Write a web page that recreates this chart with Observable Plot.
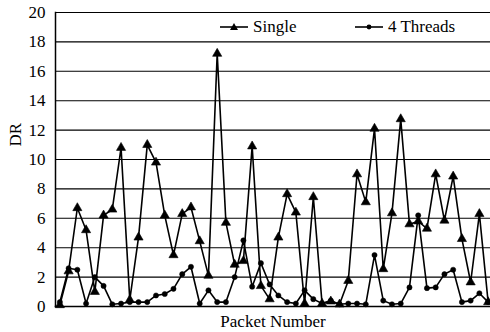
<!DOCTYPE html>
<html><head><meta charset="utf-8">
<script src="https://cdn.jsdelivr.net/npm/d3@7"></script>
<script src="https://cdn.jsdelivr.net/npm/@observablehq/plot@0.6"></script>
<style>
body{margin:0;background:#fff;}
#wrap{position:relative;width:490px;height:332px;font-family:"Liberation Serif","Times New Roman",Times,"Nimbus Roman","Nimbus Roman No9 L",FreeSerif,"Noto Serif","DejaVu Serif",serif;color:#000;}
#wrap svg text{font-family:inherit;}
.leg{position:absolute;top:17px;height:20px;font-size:17px;display:flex;align-items:center;white-space:nowrap;}
.leg svg{margin-right:4px;}
</style></head><body><div id="wrap"></div>
<script>
const packets = d3.range(1, 51);
const single = [0.1, 2.4, 6.7, 5.2, 1.0, 6.2, 6.6, 10.8, 0.45, 4.7,
  11.0, 9.8, 6.2, 3.5, 6.3, 6.75, 4.45, 2.1, 17.2, 5.7,
  2.85, 3.1, 10.9, 1.4, 0.5, 4.7, 7.65, 6.4, 0.2, 7.45,
  0.2, 0.35, 0.15, 1.75, 9.0, 7.1, 12.1, 2.55, 6.35, 12.75,
  5.6, 5.8, 5.3, 9.0, 5.85, 8.85, 4.6, 1.65, 6.3, 0.3];
const threads4 = [0.3, 2.6, 2.5, 0.2, 2.0, 1.4, 0.15, 0.2, 0.3, 0.3,
  0.3, 0.75, 0.85, 1.2, 2.2, 2.7, 0.2, 1.1, 0.3, 0.3,
  2.0, 4.5, 1.35, 2.95, 1.5, 0.75, 0.3, 0.2, 1.1, 0.5,
  0.2, 0.4, 0.15, 0.2, 0.2, 0.15, 3.5, 0.4, 0.15, 0.2,
  1.3, 6.2, 1.25, 1.3, 2.2, 2.5, 0.3, 0.4, 0.9, 0.3];
const seriesNames = ["Single", "4 Threads"];
const yTicks = [0, 2, 4, 6, 8, 10, 12, 14, 16, 18, 20];
const xLabel = "Packet Number";
const yLabel = "DR";

const rows = packets.flatMap((p, i) => [
  {packet: p, dr: single[i], series: seriesNames[0]},
  {packet: p, dr: threads4[i], series: seriesNames[1]}
]);

const serif = "'Liberation Serif', 'Times New Roman', Times, 'Nimbus Roman', FreeSerif, 'Noto Serif', 'DejaVu Serif', serif";
const chart = Plot.plot({
  width: 490, height: 332,
  marginLeft: 55, marginRight: 0, marginTop: 12, marginBottom: 26,
  style: {fontFamily: serif, fontSize: "17px", color: "#000", background: "#fff", overflow: "visible"},
  x: {type: "linear", domain: [0.5, 50.5], range: [55, 492], axis: null},
  y: {domain: [0, 20], ticks: yTicks, tickSize: 0, tickPadding: 10, label: null},
  marks: [
    Plot.ruleY(yTicks.filter(d => d > 0), {stroke: "#000", strokeWidth: 1.1}),
    Plot.frame({anchor: "left", stroke: "#000", strokeWidth: 1.5}),
    Plot.frame({anchor: "bottom", stroke: "#000", strokeWidth: 1.5}),
    Plot.line(rows, {x: "packet", y: "dr", z: "series", stroke: "#000", strokeWidth: 1.6}),
    Plot.dot(rows.filter(d => d.series === seriesNames[1]), {x: "packet", y: "dr", r: 2.6, fill: "#000", stroke: "#000", strokeWidth: 0.5}),
    Plot.dot(rows.filter(d => d.series === seriesNames[0]), {x: "packet", y: "dr", symbol: "triangle", r: 3.4, fill: "#000", stroke: "#000", strokeWidth: 0.6}),
    Plot.text([xLabel], {frameAnchor: "bottom", dy: 15, text: d => d, lineAnchor: "middle", fontSize: 17, fontFamily: serif}),
    Plot.text([yLabel], {frameAnchor: "left", dx: -40, dy: -13, rotate: -90, text: d => d, fontSize: 17, fontFamily: serif})
  ]
});
const wrap = document.getElementById("wrap");
wrap.appendChild(chart);

function legendItem(name, left, symbol) {
  const div = document.createElement("div");
  div.className = "leg";
  div.style.left = left + "px";
  const mk = symbol === "triangle"
    ? '<path d="M14,6 L18,13 L10,13 Z" fill="#000"/>'
    : '<circle cx="14" cy="10" r="2.4" fill="#000"/>';
  div.innerHTML = '<svg width="29" height="20"><line x1="0" y1="10" x2="28" y2="10" stroke="#000" stroke-width="1.6"/>' + mk + '</svg><span>' + name + '</span>';
  wrap.appendChild(div);
}
legendItem(seriesNames[0], 220, "triangle");
legendItem(seriesNames[1], 355, "circle");
</script>
</body></html>
